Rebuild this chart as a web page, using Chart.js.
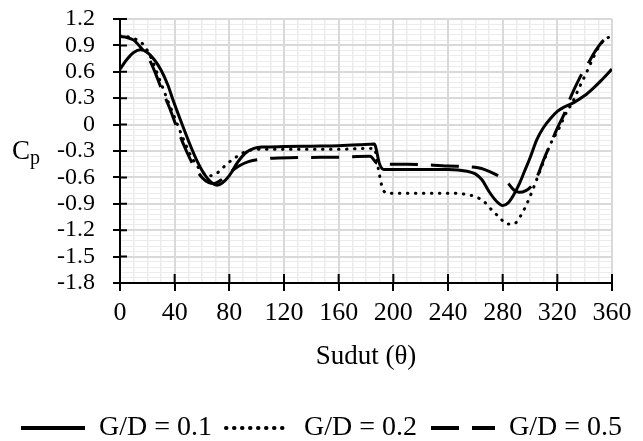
<!DOCTYPE html>
<html>
<head>
<meta charset="utf-8">
<script src="https://cdn.jsdelivr.net/npm/chart.js@4"></script>
<style>
  body { margin: 0; background: #fff; }
  #wrap { width: 643px; height: 441px; }
</style>
</head>
<body>
<div id="wrap"><canvas id="cpChart" width="643" height="441"></canvas></div>
<script>
// Data: angle (deg) and Cp for each gap ratio
const angle01 = [0, 5, 10, 15, 20, 25, 30, 35, 39, 45, 50, 56, 62, 67, 71, 75, 80, 86, 92, 98, 105, 120, 140, 160, 175, 186, 190, 193, 205, 220, 240, 254, 260, 265, 270, 276, 280, 284, 288, 292, 296, 300, 305, 310, 315, 320, 325, 332, 340, 346, 352, 360];
const cp01 = [0.63, 0.74, 0.82, 0.85, 0.82, 0.74, 0.62, 0.45, 0.27, 0.02, -0.18, -0.40, -0.57, -0.66, -0.69, -0.66, -0.58, -0.43, -0.32, -0.27, -0.255, -0.25, -0.245, -0.24, -0.23, -0.22, -0.45, -0.51, -0.51, -0.51, -0.51, -0.53, -0.56, -0.63, -0.76, -0.88, -0.92, -0.89, -0.80, -0.68, -0.53, -0.38, -0.17, -0.03, 0.07, 0.15, 0.20, 0.25, 0.33, 0.41, 0.50, 0.63];

const angle02 = [0, 5, 10, 17, 23, 28, 34, 40, 46, 52, 58, 63, 67, 72, 78, 84, 90, 96, 105, 130, 160, 186, 189, 192, 196, 220, 240, 252, 260, 266, 272, 278, 283, 288, 293, 298, 302, 306, 310, 315, 321, 326, 331, 336, 341, 346, 351, 356, 360];
const cp02 = [1.01, 1.0, 0.98, 0.91, 0.75, 0.55, 0.31, 0.08, -0.15, -0.36, -0.50, -0.57, -0.58, -0.54, -0.45, -0.38, -0.32, -0.29, -0.28, -0.28, -0.28, -0.27, -0.50, -0.72, -0.78, -0.78, -0.78, -0.79, -0.82, -0.87, -0.97, -1.06, -1.13, -1.13, -1.04, -0.89, -0.74, -0.58, -0.42, -0.22, -0.05, 0.12, 0.25, 0.42, 0.58, 0.75, 0.90, 0.98, 1.0];

const angle05 = [0, 5, 10, 15, 20, 25, 30, 36, 42, 48, 54, 60, 65, 69, 74, 80, 87, 94, 105, 130, 160, 183, 188, 192, 210, 240, 262, 274, 283, 288, 292, 297, 301, 305, 310, 315, 320, 325, 330, 336, 342, 348, 354, 360];
const cp05 = [1.0, 0.99, 0.96, 0.88, 0.78, 0.62, 0.42, 0.20, -0.05, -0.28, -0.47, -0.60, -0.66, -0.67, -0.63, -0.55, -0.47, -0.42, -0.39, -0.375, -0.37, -0.36, -0.44, -0.45, -0.45, -0.47, -0.49, -0.56, -0.65, -0.74, -0.77, -0.75, -0.70, -0.60, -0.40, -0.22, -0.04, 0.12, 0.32, 0.52, 0.68, 0.84, 0.96, 1.0];

const seriesLabels = ['G/D = 0.1', 'G/D = 0.2', 'G/D = 0.5'];
const xTitle = 'Sudut (\u03b8)';

const toPoints = (xs, ys) => xs.map((v, i) => ({ x: v, y: ys[i] }));

const serif = '"Liberation Serif", "Times New Roman", serif';
Chart.defaults.color = '#000';
Chart.defaults.font.family = serif;

const MAJOR = '#d9d9d9';
const MINOR = '#ececec';

// tick marks that cross the axis line (the inner half)
const crossTicks = {
    id: 'crossTicks',
    afterDatasetsDraw(chart) {
        const { ctx, chartArea, scales: { x, y } } = chart;
        ctx.save();
        ctx.strokeStyle = '#000';
        ctx.lineWidth = 2;
        ctx.beginPath();
        x.ticks.forEach(t => {
            const px = x.getPixelForValue(t.value);
            ctx.moveTo(px, chartArea.bottom);
            ctx.lineTo(px, chartArea.bottom - 9);
        });
        y.ticks.forEach(t => {
            const py = y.getPixelForValue(t.value);
            ctx.moveTo(chartArea.left, py);
            ctx.lineTo(chartArea.left + 7, py);
        });
        ctx.stroke();
        ctx.restore();
    }
};

// y axis title "Cp" with subscript p
const cpTitle = {
    id: 'cpTitle',
    afterDraw(chart) {
        const { ctx, scales: { y } } = chart;
        const base = y.getPixelForValue(-0.3) + 8;
        ctx.save();
        ctx.fillStyle = '#000';
        ctx.textBaseline = 'alphabetic';
        ctx.font = '27px ' + serif;
        ctx.fillText('C', 12, base);
        ctx.font = '20px ' + serif;
        ctx.fillText('p', 30, base + 5);
        ctx.restore();
    }
};

const isMultiple = (v, step) => Math.abs(v / step - Math.round(v / step)) < 1e-6;

const ctx = document.getElementById('cpChart').getContext('2d');
const cpChart = new Chart(ctx, {
    type: 'line',
    data: {
        datasets: [{
            label: seriesLabels[0],
            data: toPoints(angle01, cp01),
            borderColor: '#000',
            borderWidth: 3,
        }, {
            label: seriesLabels[1],
            data: toPoints(angle02, cp02),
            borderColor: '#000',
            borderWidth: 3,
            borderDash: [0.5, 7.5],
            borderCapStyle: 'round',
        }, {
            label: seriesLabels[2],
            data: toPoints(angle05, cp05),
            borderColor: '#000',
            borderWidth: 3,
            borderDash: [28, 13],
        }]
    },
    options: {
        responsive: false,
        animation: false,
        devicePixelRatio: 1,
        layout: { padding: { top: 19, right: 0, left: 0, bottom: -11 } },
        elements: {
            point: { radius: 0, hoverRadius: 0 },
            line: { cubicInterpolationMode: 'monotone', fill: false }
        },
        plugins: {
            tooltip: { enabled: false },
            legend: {
                position: 'bottom',
                labels: {
                    usePointStyle: true,
                    pointStyle: 'line',
                    pointStyleWidth: 64,
                    padding: 14,
                    color: '#000',
                    font: { size: 28, family: serif },
                    // point-style labels do not carry the line dash, so copy it from the dataset
                    generateLabels: chart => Chart.defaults.plugins.legend.labels.generateLabels(chart).map(item => {
                        const ds = chart.data.datasets[item.datasetIndex];
                        item.lineDash = ds.borderDash || [];
                        item.lineCap = ds.borderCapStyle || 'butt';
                        item.lineWidth = 4;
                        item.strokeStyle = '#000';
                        return item;
                    })
                }
            }
        },
        scales: {
            x2: {
                type: 'linear', position: 'bottom', z: -1,
                min: 0, max: 360,
                ticks: { display: false, stepSize: 10, maxTicksLimit: 100 },
                grid: {
                    drawTicks: false, lineWidth: 1.5,
                    color: c => isMultiple(c.tick.value, 40) ? 'rgba(0,0,0,0)' : MINOR
                },
                border: { display: false },
                afterFit: s => { s.height = 0; }
            },
            y2: {
                type: 'linear', position: 'left', z: -1,
                min: -1.8, max: 1.2,
                ticks: { display: false, stepSize: 0.06, maxTicksLimit: 100 },
                grid: {
                    drawTicks: false, lineWidth: 1,
                    color: c => isMultiple(c.tick.value, 0.3) ? 'rgba(0,0,0,0)' : MINOR
                },
                border: { display: false },
                afterFit: s => { s.width = 0; }
            },
            x: {
                type: 'linear', position: 'bottom',
                min: 0, max: 360,
                ticks: { stepSize: 40, autoSkip: false, maxRotation: 0, padding: 7, font: { size: 26 } },
                grid: { color: MAJOR, lineWidth: 2, tickColor: '#000', tickWidth: 2, tickLength: 8 },
                border: { color: '#000', width: 2 },
                title: { display: true, text: xTitle, font: { size: 27 }, padding: { top: 0, bottom: 27 } },
                afterFit: s => { s.height = 117; s.paddingRight = 31; }
            },
            y: {
                type: 'linear', position: 'left',
                min: -1.8, max: 1.2,
                ticks: {
                    stepSize: 0.3, autoSkip: false, padding: 18, font: { size: 24 },
                    callback: v => String(Number(v.toFixed(1)))
                },
                grid: { color: MAJOR, lineWidth: 2, tickColor: '#000', tickWidth: 2, tickLength: 7 },
                border: { color: '#000', width: 2 },
                afterFit: s => { s.width = 120; s.paddingTop = 0; s.paddingBottom = 0; }
            }
        }
    },
    plugins: [crossTicks, cpTitle]
});
</script>
</body>
</html>
